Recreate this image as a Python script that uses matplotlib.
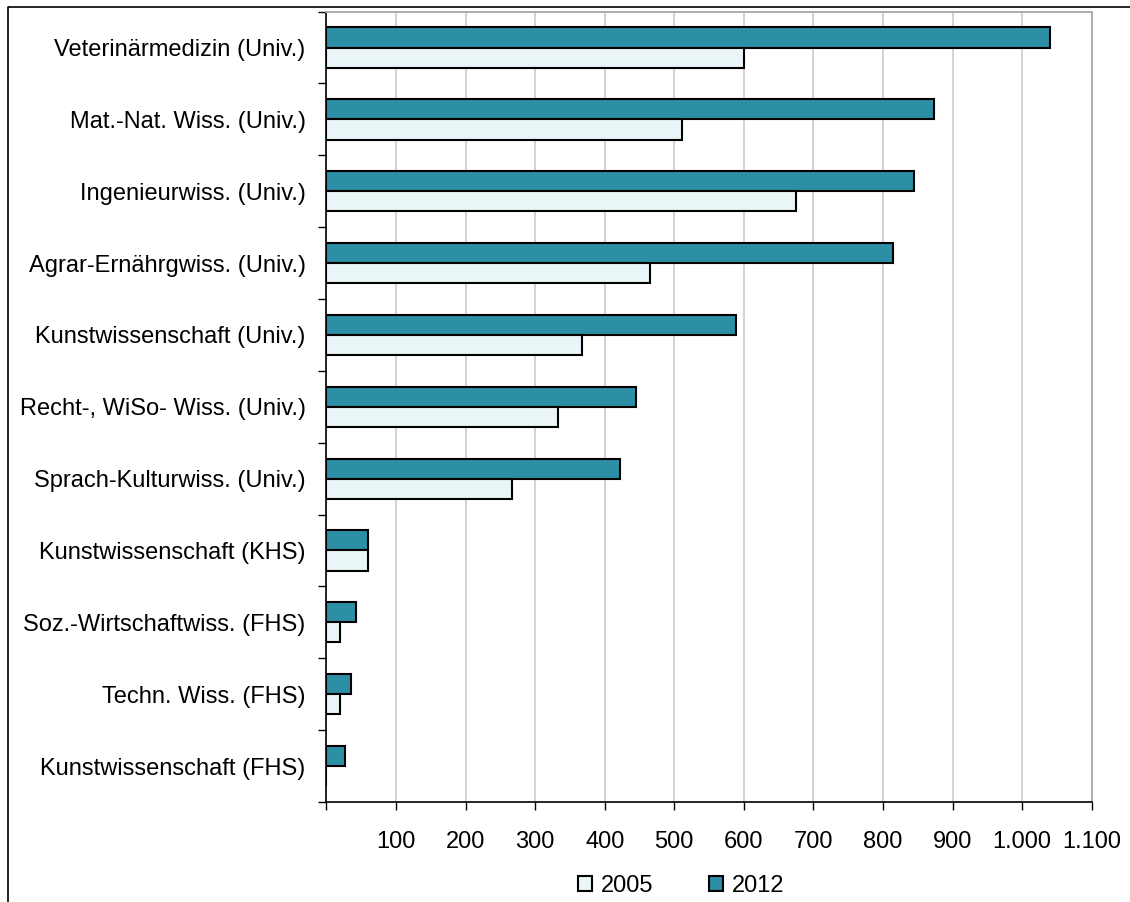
import matplotlib
matplotlib.use("Agg")
import matplotlib.pyplot as plt
from matplotlib.patches import Patch
from matplotlib.lines import Line2D
import numpy as np

categories = [
    "Veterinärmedizin (Univ.)",
    "Mat.-Nat. Wiss. (Univ.)",
    "Ingenieurwiss. (Univ.)",
    "Agrar-Ernährgwiss. (Univ.)",
    "Kunstwissenschaft (Univ.)",
    "Recht-, WiSo- Wiss. (Univ.)",
    "Sprach-Kulturwiss. (Univ.)",
    "Kunstwissenschaft (KHS)",
    "Soz.-Wirtschaftwiss. (FHS)",
    "Techn. Wiss. (FHS)",
    "Kunstwissenschaft (FHS)",
]
values_2005 = [600, 511, 675, 465, 368, 333, 267, 60, 20, 20, 0]
values_2012 = [1040, 873, 845, 815, 589, 445, 422, 60, 43, 35, 26]
x_ticks = [0, 100, 200, 300, 400, 500, 600, 700, 800, 900, 1000, 1100]
series_labels = ["2005", "2012"]

col_2005 = "#EAF5F7"
col_2012 = "#2C8FA6"

plt.rcParams["font.family"] = ["Liberation Sans", "DejaVu Sans"]
FS = 17

fig = plt.figure(figsize=(11.3, 9.02), dpi=100)
ax = fig.add_axes([0.2889, 0.1109, 0.6772, 0.8762])

y = np.arange(len(categories))
h = 0.28
ax.barh(y - 0.14, values_2012, height=h, color=col_2012, edgecolor="black", linewidth=1.5, zorder=3)
ax.barh(y + 0.14, values_2005, height=h, color=col_2005, edgecolor="black", linewidth=1.5, zorder=3)

ax.set_xlim(0, 1100)
ax.set_ylim(len(categories) - 0.5, -0.5)

ax.set_xticks(x_ticks)
ax.set_xticklabels(["" if v == 0 else f"{v:,}".replace(",", ".") for v in x_ticks], fontsize=FS)
ax.tick_params(axis="x", direction="out", length=6, width=1.0, pad=15, color="black")

ax.set_yticks(np.arange(len(categories) + 1) - 0.5)
ax.set_yticklabels([])
ax.set_yticks(y, minor=True)
ax.set_yticklabels(categories, minor=True, fontsize=FS)
ax.tick_params(axis="y", which="major", direction="out", length=5.5, width=1.0, color="black")
ax.tick_params(axis="y", which="minor", length=0, pad=15)

ax.xaxis.grid(True, color="#CFCFCF", linewidth=1.3, zorder=0)
ax.set_axisbelow(True)

for s in ["left", "bottom"]:
    ax.spines[s].set_color("black")
    ax.spines[s].set_linewidth(1.2)
for s in ["top", "right"]:
    ax.spines[s].set_color("#A8A8A8")
    ax.spines[s].set_linewidth(1.3)

handles = [Patch(facecolor=col_2005, edgecolor="black", linewidth=1.5),
           Patch(facecolor=col_2012, edgecolor="black", linewidth=1.5)]
fig.legend(handles, series_labels, loc="center", bbox_to_anchor=(681 / 1130, 1 - 886 / 902),
           ncol=2, frameon=False, fontsize=FS, handlelength=0.6, handleheight=0.6,
           handletextpad=0.36, columnspacing=2.37, borderpad=0.2)

# outer chart frame (partially visible)
fig.add_artist(Line2D([8 / 1130, 8 / 1130, 1.0], [0.0, 1 - 7 / 902, 1 - 7 / 902],
                      transform=fig.transFigure, color="black", linewidth=1.2))

fig.savefig("out.png", dpi=100)
